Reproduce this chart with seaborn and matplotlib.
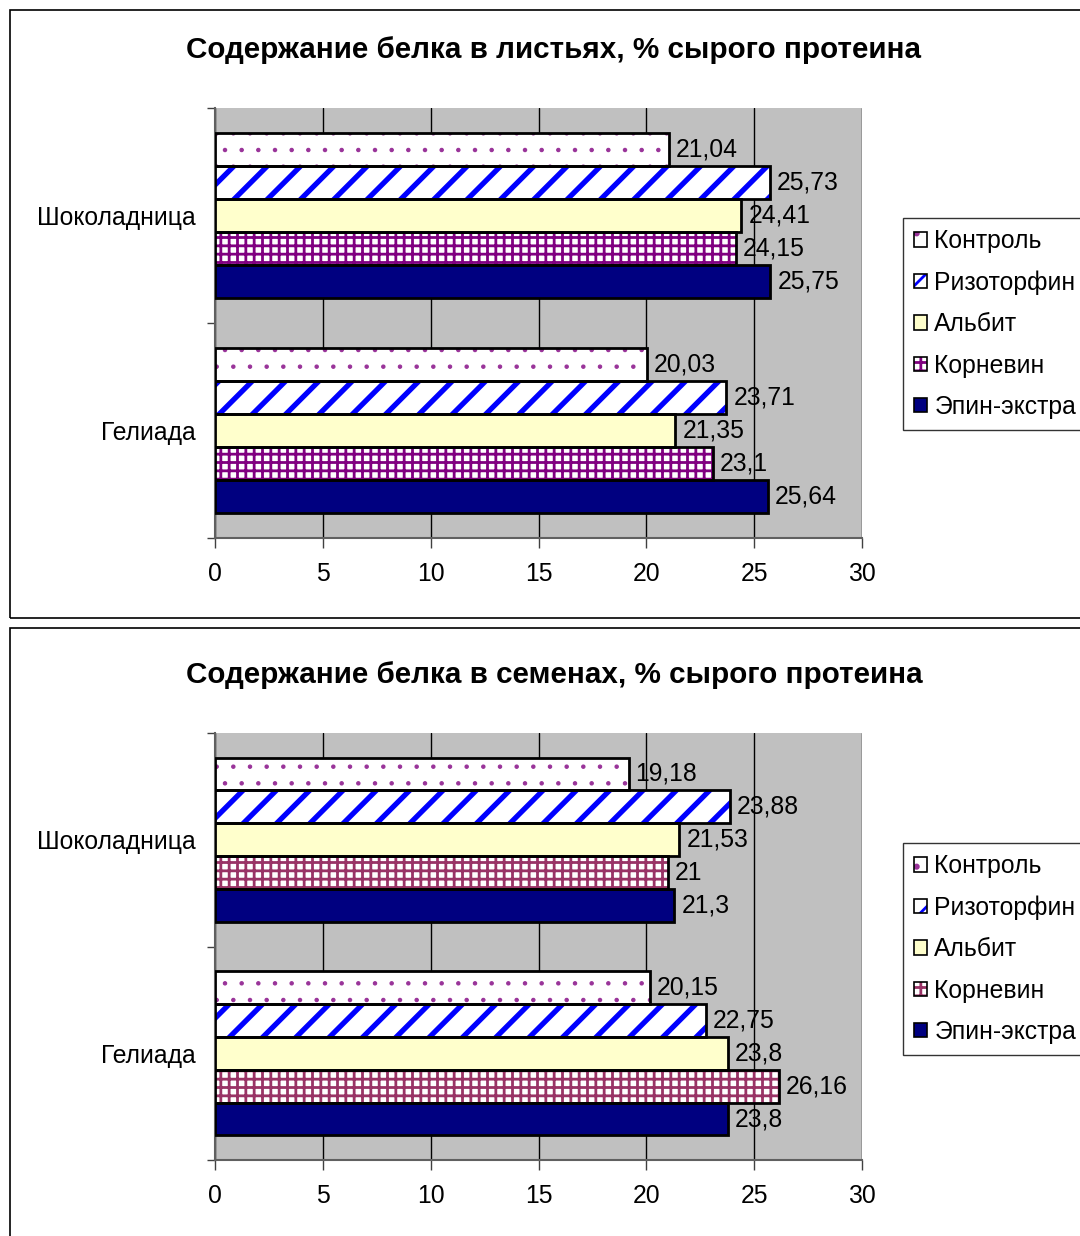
import matplotlib
matplotlib.use("Agg")
import matplotlib.pyplot as plt
from matplotlib.patches import Rectangle
from matplotlib.legend_handler import HandlerTuple
import pandas as pd
import seaborn as sns

# data
varieties = ["Шоколадница", "Гелиада"]
treatments = ["Контроль", "Ризоторфин", "Альбит", "Корневин", "Эпин-экстра"]
leaves_shok = [21.04, 25.73, 24.41, 24.15, 25.75]
leaves_gel = [20.03, 23.71, 21.35, 23.1, 25.64]
seeds_shok = [19.18, 23.88, 21.53, 21, 21.3]
seeds_gel = [20.15, 22.75, 23.8, 26.16, 23.8]
titles = ["Содержание белка в листьях, % сырого протеина",
          "Содержание белка в семенах, % сырого протеина"]

fills = ["white", "white", "#FFFFCC", "white", "#000080"]
hatches = [".", "/", "", "++", ""]
hatch_cols_top = ["#993399", "#0000FF", "black", "#800080", "black"]
hatch_cols_bot = ["#993399", "#0000FF", "black", "#993366", "black"]
hatch_lw = [0.8, 3.8, 1.0, 2.0, 1.0]

sns.set_style("white")
plt.rcParams["font.family"] = ["Liberation Sans", "DejaVu Sans"]
plt.rcParams["text.color"] = "black"
plt.rcParams["xtick.color"] = "black"
plt.rcParams["ytick.color"] = "black"
plt.rcParams["hatch.linewidth"] = 2.0

FS = 17.8
W, H = 1080, 1236
fig = plt.figure(figsize=(W / 100, H / 100), dpi=100)


def make_df(shok, gel):
    rows = []
    for v, vals in zip(varieties, [shok, gel]):
        for t, val in zip(treatments, vals):
            rows.append({"variety": v, "treatment": t, "value": val})
    return pd.DataFrame(rows)


def draw(ax, df, hatch_cols, title, title_y):
    sns.barplot(data=df, y="variety", x="value", hue="treatment",
                order=varieties, hue_order=treatments, palette=fills,
                orient="h", width=0.77, saturation=1, ax=ax, legend=False)
    ax.set_facecolor("#C0C0C0")
    for i, cont in enumerate(ax.containers):
        for p in cont.patches:
            p.set_edgecolor(hatch_cols[i])
            p.set_linewidth(0)
            p.set_hatch(hatches[i])
            if hasattr(p, "set_hatch_linewidth"):
                p.set_hatch_linewidth(hatch_lw[i])
            ax.add_patch(Rectangle(p.get_xy(), p.get_width(), p.get_height(),
                                   fill=False, edgecolor="black", linewidth=2, zorder=3))
        labels = [f"{v:g}".replace(".", ",") for v in cont.datavalues]
        ax.bar_label(cont, labels=labels, padding=5, fontsize=FS, color="black")
    ax.set_xlim(0, 30)
    ax.set_ylim(1.5, -0.5)
    ax.set_xticks(range(0, 31, 5))
    ax.xaxis.grid(True, color="black", linewidth=1)
    ax.set_axisbelow(True)
    ax.set_xlabel("")
    ax.set_ylabel("")
    ax.tick_params(axis="x", labelsize=FS, length=7, width=1, color="#404040",
                   bottom=True, pad=10)
    ax.tick_params(axis="y", which="major", labelsize=FS, length=0, pad=14)
    ax.set_yticks([-0.5, 0.5, 1.5], minor=True)
    ax.tick_params(axis="y", which="minor", length=6, width=1, color="#404040", left=True)
    for s in ["top", "right"]:
        ax.spines[s].set_visible(False)
    for s in ["left", "bottom"]:
        ax.spines[s].set_color("#606060")
        ax.spines[s].set_linewidth(1.5)
    fig.text(554 / W, 1 - title_y / H, title, ha="center", va="center",
             fontsize=21.3, fontweight="bold")


def legend(hatch_cols, top_px):
    handles = []
    for i in range(len(treatments)):
        fill = Rectangle((0, 0), 1, 1, facecolor=fills[i], edgecolor=hatch_cols[i],
                         hatch=hatches[i], linewidth=0)
        edge = Rectangle((0, 0), 1, 1, fill=False, edgecolor="black", linewidth=1.2)
        handles.append((fill, edge))
    leg = fig.legend(handles, treatments, loc="upper left",
                     bbox_to_anchor=(903 / W, 1 - top_px / H),
                     bbox_transform=fig.transFigure, borderaxespad=0,
                     handler_map={tuple: HandlerTuple(ndivide=1, pad=0)},
                     fontsize=FS, frameon=True, fancybox=False,
                     handlelength=0.52, handleheight=0.52, handletextpad=0.3,
                     labelspacing=0.7, borderpad=0.45)
    leg.get_frame().set_edgecolor("black")
    leg.get_frame().set_linewidth(1)


ax1 = fig.add_axes([215 / W, 1 - 538 / H, (862 - 215) / W, (538 - 108) / H])
draw(ax1, make_df(leaves_shok, leaves_gel), hatch_cols_top, titles[0], 50)
legend(hatch_cols_top, 218)

ax2 = fig.add_axes([215 / W, 1 - 1160 / H, (862 - 215) / W, (1160 - 733) / H])
draw(ax2, make_df(seeds_shok, seeds_gel), hatch_cols_bot, titles[1], 675)
legend(hatch_cols_bot, 843)

# outer chart frames
for y0, y1 in [(10, 618), (628, 1250)]:
    fig.add_artist(Rectangle((10 / W, 1 - y1 / H), (1100 - 10) / W, (y1 - y0) / H,
                             transform=fig.transFigure, fill=False,
                             edgecolor="black", linewidth=1.2))

fig.savefig("out.png", dpi=100)
